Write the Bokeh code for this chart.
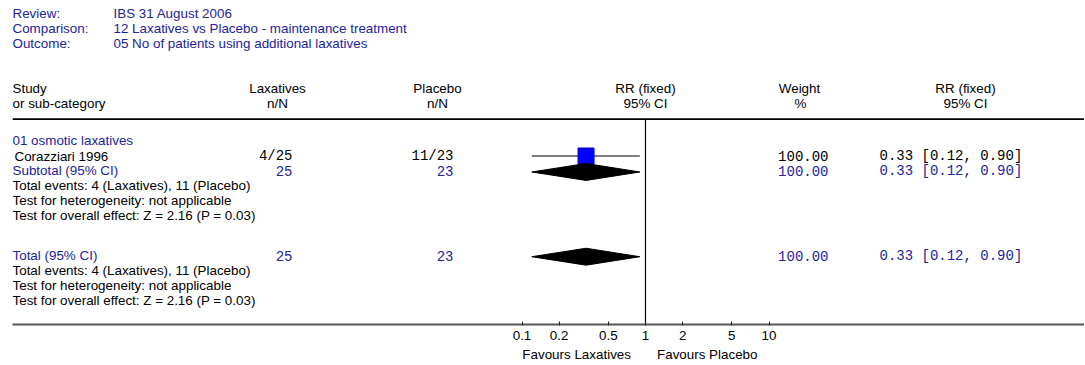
from bokeh.plotting import figure
from bokeh.models import Range1d, LogScale, LogAxis, FixedTicker, ColumnDataSource, CustomJSTickFormatter
from bokeh.core.properties import value
from bokeh.embed import file_html
from bokeh.resources import INLINE

# ---------------- data ----------------
review = "IBS 31 August 2006"
comparison = "12 Laxatives vs Placebo  - maintenance treatment"
outcome = "05 No of patients using additional laxatives"
subgroup = "01 osmotic laxatives"

study_names = ["Corazziari 1996"]
lax_events = [4]
lax_totals = [25]
plc_events = [11]
plc_totals = [23]
study_rr = [0.33]
study_lo = [0.12]
study_hi = [0.90]
study_weight = [100.00]

sub_lax_total = 25
sub_plc_total = 23
sub_rr, sub_lo, sub_hi, sub_weight = 0.33, 0.12, 0.90, 100.00
sub_lax_events, sub_plc_events = 4, 11
het_text = "not applicable"
z_value, p_value = 2.16, 0.03

tot_lax_total = 25
tot_plc_total = 23
tot_rr, tot_lo, tot_hi, tot_weight = 0.33, 0.12, 0.90, 100.00

tick_values = [0.1, 0.2, 0.5, 1, 2, 5, 10]
favours_left = "Favours Laxatives"
favours_right = "Favours Placebo"

# ---------------- layout ----------------
BLUE = "#23239a"
SANS = "Liberation Sans"
MONO = "Liberation Mono"
FS = "13.4px"
FSM = "14px"

W, H = 1084, 364
X0, X1 = 12, W
Y_AXIS = 325
PX_PER_DEC = 123.5
X_ONE = 645

p = figure(width=W, height=H, output_backend="svg", toolbar_location=None,
           x_axis_type=None, y_axis_type=None,
           x_range=Range1d(X0, X1), y_range=Range1d(Y_AXIS, 0),
           min_border_left=X0, min_border_right=0, min_border_top=0,
           min_border_bottom=H - Y_AXIS)
p.outline_line_color = None
p.xgrid.visible = False
p.ygrid.visible = False
p.background_fill_color = "white"
p.border_fill_color = "white"

p.extra_x_ranges = {"rr": Range1d(10 ** ((X0 - X_ONE) / PX_PER_DEC), 10 ** ((X1 - X_ONE) / PX_PER_DEC))}
p.extra_x_scales = {"rr": LogScale()}

ax = LogAxis(x_range_name="rr")
ax.ticker = FixedTicker(ticks=tick_values)
ax.minor_tick_line_color = None
ax.major_tick_in = 3
ax.major_tick_out = 1
ax.axis_line_color = "#555555"
ax.axis_line_width = 2
ax.major_tick_line_color = "#222222"
ax.major_label_text_font = SANS
ax.major_label_text_font_size = FS
ax.major_label_text_color = "black"
ax.major_label_standoff = 5
ax.formatter = CustomJSTickFormatter(code="return String(tick);")
p.add_layout(ax, "below")

# second (label-only) axis carrying the "Favours" captions around RR = 1
NB = "\u00a0"
fav_text = favours_left + NB * 7 + favours_right + NB * 3
ax2 = LogAxis(x_range_name="rr")
ax2.ticker = FixedTicker(ticks=[1])
ax2.minor_tick_line_color = None
ax2.major_tick_line_color = None
ax2.axis_line_color = None
ax2.major_tick_in = 0
ax2.major_tick_out = 0
ax2.major_label_standoff = 4
ax2.major_label_text_font = SANS
ax2.major_label_text_font_size = FS
ax2.major_label_text_color = "black"
ax2.formatter = CustomJSTickFormatter(args=dict(t=fav_text), code="return t;")
p.add_layout(ax2, "below")


def txt(x, y, s, color="black", font=SANS, size=FS, align="left"):
    src = ColumnDataSource(dict(x=x, y=y, t=s))
    p.text(x="x", y="y", text="t", source=src, text_color=color,
           text_font=value(font), text_font_size=size, text_align=align,
           text_baseline="middle")


# header block
Y_REV, Y_COMP, Y_OUT = 13, 28, 43
txt([12, 12, 12], [Y_REV, Y_COMP, Y_OUT], ["Review:", "Comparison:", "Outcome:"], BLUE)
txt([113, 113, 113], [Y_REV, Y_COMP, Y_OUT], [review, comparison, outcome], BLUE)

# column headers
Y_H1, Y_H2 = 88, 103
txt([12, 12], [Y_H1, Y_H2], ["Study", "or sub-category"])
txt([277, 277, 437, 437, 645, 645, 799, 800, 965, 965],
    [Y_H1, Y_H2] * 5,
    ["Laxatives", "n/N", "Placebo", "n/N", "RR (fixed)", "95% CI",
     "Weight", "%", "RR (fixed)", "95% CI"], align="center")

Y_LINE = 119
p.segment(x0=[X0], x1=[X1], y0=[Y_LINE], y1=[Y_LINE], line_color="black", line_width=1.6)

# rows
Y_GRP = 140
Y_STUDY = [156]
Y_SUB = 171
Y_SUB_INFO = [186, 201, 216]
Y_TOT = 256
Y_TOT_INFO = [271, 286, 301]

txt([12], [Y_GRP], [subgroup], BLUE)

COL_LAX, COL_PLC, COL_W, COL_RR = 292, 453, 828, 879
ci_fmt = lambda r, lo, hi: f"{r:.2f} [{lo:.2f}, {hi:.2f}]"

txt([14] * len(study_names), Y_STUDY, study_names)
txt([COL_LAX] * len(study_names), Y_STUDY, [f"{e}/{n}" for e, n in zip(lax_events, lax_totals)],
    font=MONO, size=FSM, align="right")
txt([COL_PLC] * len(study_names), Y_STUDY, [f"{e}/{n}" for e, n in zip(plc_events, plc_totals)],
    font=MONO, size=FSM, align="right")
txt([COL_W] * len(study_names), Y_STUDY, [f"{w:.2f}" for w in study_weight],
    font=MONO, size=FSM, align="right")
txt([COL_RR] * len(study_names), Y_STUDY,
    [ci_fmt(r, lo, hi) for r, lo, hi in zip(study_rr, study_lo, study_hi)], font=MONO, size=FSM)

info_lines = [f"Total events: {sub_lax_events} (Laxatives), {sub_plc_events} (Placebo)",
              f"Test for heterogeneity: {het_text}",
              f"Test for overall effect: Z = {z_value:.2f} (P = {p_value:.2f})"]

for ylab, yinfo, label, nl, npl, w, r, lo, hi in [
        (Y_SUB, Y_SUB_INFO, "Subtotal (95% CI)", sub_lax_total, sub_plc_total, sub_weight, sub_rr, sub_lo, sub_hi),
        (Y_TOT, Y_TOT_INFO, "Total (95% CI)", tot_lax_total, tot_plc_total, tot_weight, tot_rr, tot_lo, tot_hi)]:
    txt([12], [ylab], [label], BLUE)
    txt([COL_LAX], [ylab], [str(nl)], BLUE, MONO, FSM, "right")
    txt([COL_PLC], [ylab], [str(npl)], BLUE, MONO, FSM, "right")
    txt([COL_W], [ylab], [f"{w:.2f}"], BLUE, MONO, FSM, "right")
    txt([COL_RR], [ylab], [ci_fmt(r, lo, hi)], BLUE, MONO, FSM)
    txt([12] * 3, yinfo, info_lines)

# forest: line of no effect
p.segment(x0=[1], x1=[1], y0=[Y_LINE], y1=[Y_AXIS], x_range_name="rr",
          line_color="black", line_width=1.2)

# study CI + box
p.segment(x0=study_lo, x1=study_hi, y0=Y_STUDY, y1=Y_STUDY, x_range_name="rr",
          line_color="black", line_width=1.2)
p.scatter(x=study_rr, y=Y_STUDY, x_range_name="rr", marker="square", size=16,
          fill_color="#0000ff", line_color="#0000cc")

# diamonds
HD = 8.5
for yc, r, lo, hi in [(Y_SUB + 1, sub_rr, sub_lo, sub_hi), (Y_TOT + 1, tot_rr, tot_lo, tot_hi)]:
    p.patch(x=[lo, r, hi, r], y=[yc, yc - HD, yc, yc + HD], x_range_name="rr",
            fill_color="black", line_color="black")

open("out.html", "w").write(file_html(p, INLINE))
